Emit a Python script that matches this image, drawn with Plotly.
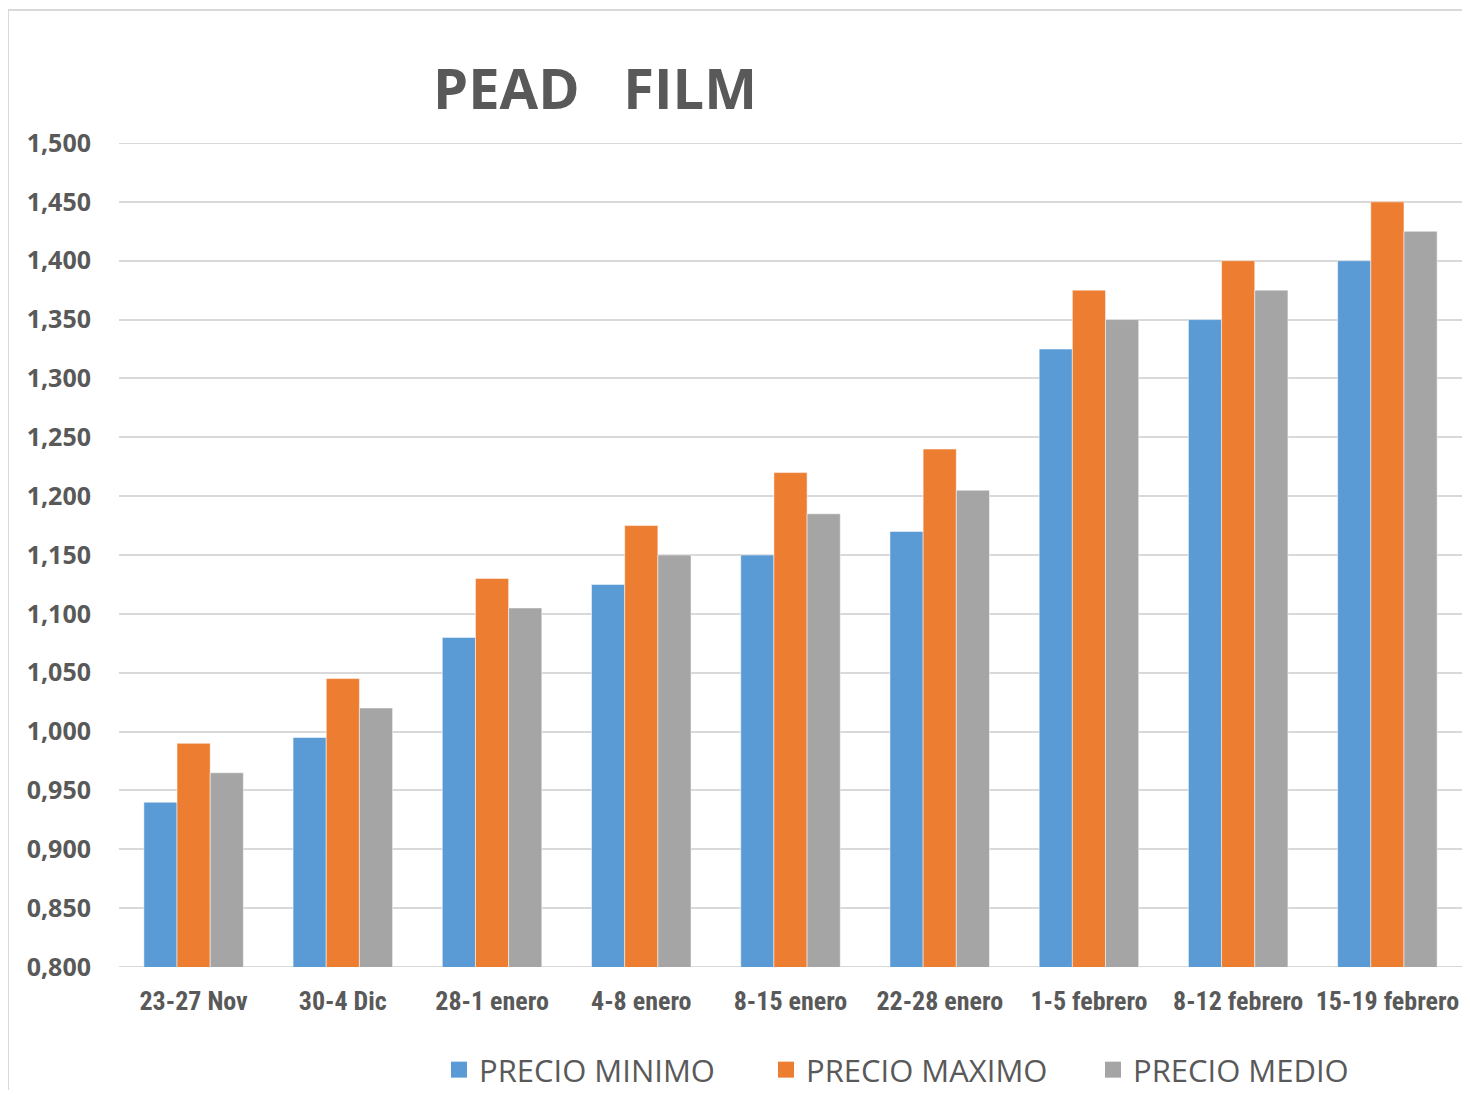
import plotly.graph_objects as go

categories = ["23-27 Nov", "30-4 Dic", "28-1 enero", "4-8 enero", "8-15 enero",
              "22-28 enero", "1-5 febrero", "8-12 febrero", "15-19 febrero"]
precio_minimo = [0.940, 0.995, 1.080, 1.125, 1.150, 1.170, 1.325, 1.350, 1.400]
precio_maximo = [0.990, 1.045, 1.130, 1.175, 1.220, 1.240, 1.375, 1.400, 1.450]
precio_medio = [0.965, 1.020, 1.105, 1.150, 1.185, 1.205, 1.350, 1.375, 1.425]

series = [
    ("PRECIO MINIMO", precio_minimo, "#5B9BD5"),
    ("PRECIO MAXIMO", precio_maximo, "#ED7D31"),
    ("PRECIO MEDIO", precio_medio, "#A5A5A5"),
]

# page body has an 8px margin on every side; figure coordinates are reference pixels minus 8
OFF = 8
W, H = 1470 - 2 * OFF, 1098 - 2 * OFF
L, R = 119 - OFF, 0
T = 143 - OFF
B = H - (967 - OFF)

fig = go.Figure()
for name, vals, col in series:
    fig.add_trace(go.Bar(
        x=categories, y=vals, name=name, showlegend=False,
        marker=dict(color=col, line=dict(color="rgba(255,255,255,0.5)", width=1)),
    ))
# legend entries with larger square symbols
for name, vals, col in series:
    fig.add_trace(go.Scatter(
        x=[None], y=[None], mode="markers", name=name,
        marker=dict(symbol="square", size=18, color=col),
    ))

pw = W - L - R
ph = H - T - B

fig.update_layout(
    width=W, height=H,
    margin=dict(l=L, r=R, t=T, b=B, autoexpand=False),
    paper_bgcolor="white", plot_bgcolor="white",
    separators=",.",
    barmode="group", bargap=0.333, bargroupgap=0,
    title=dict(text="<b>PEAD   FILM</b>", x=(595 - OFF) / W, xanchor="center",
               y=1 - (89 - OFF) / H, yanchor="middle", yref="container",
               font=dict(family="Open Sans, Liberation Sans, sans-serif", size=56, color="#595959")),
    xaxis=dict(showgrid=False, showline=False, ticks="",
               tickfont=dict(family="Liberation Sans Narrow, Arial Narrow, Roboto Condensed, sans-serif",
                             size=26, color="#595959", weight="bold"),
               ticklabelstandoff=16),
    yaxis=dict(range=[0.8, 1.5], dtick=0.05, tick0=0.8, tickformat=".3f",
               showgrid=True, gridcolor="#D9D9D9", gridwidth=2,
               zeroline=False, showline=False, ticks="",
               tickfont=dict(family="Open Sans, sans-serif", size=25, color="#595959", weight="bold"),
               ticklabelstandoff=27),
    legend=dict(orientation="h", x=(439 - OFF - L) / pw, xanchor="left",
                y=-(1070 - 967) / ph, yanchor="middle",
                font=dict(family="Open Sans, sans-serif", size=31, color="#595959"),
                entrywidth=282, entrywidthmode="pixels",
                itemsizing="trace", traceorder="normal"),
    shapes=[dict(type="line", xref="paper", yref="paper",
                 x0=(8 - 119) / pw, x1=(8 - 119) / pw, y0=-(B + 10) / ph, y1=1 + (143 - 10) / ph,
                 line=dict(color="#D9D9D9", width=2)),
            dict(type="line", xref="paper", yref="paper",
                 x0=(8 - 119) / pw, x1=1.05, y0=1 + (143 - 10) / ph, y1=1 + (143 - 10) / ph,
                 line=dict(color="#D9D9D9", width=2))],
)
fig.add_hline(y=0.8, line=dict(color="#D9D9D9", width=2), layer="below")
fig.add_hline(y=1.5, line=dict(color="#D9D9D9", width=2), layer="below")

fig.write_html("out.html")
